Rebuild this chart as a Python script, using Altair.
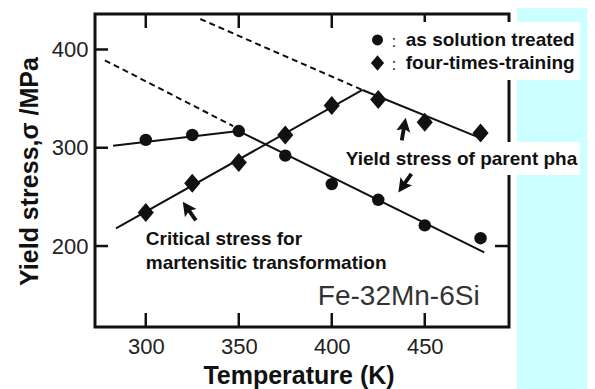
import altair as alt
import pandas as pd

# ---- data ----
temps = [300, 325, 350, 375, 400, 425, 450, 480]
sigma_solution = [308, 313, 317, 292, 263, 247, 221, 208]   # circles: as solution treated
sigma_training = [234, 264, 285, 313, 343, 349, 326, 315]   # diamonds: four-times-training

# fitted solid segments
solid_id = ["a", "a", "b", "b", "c", "c", "d", "d"]
solid_T = [282.4, 350, 350, 482, 284, 416.5, 416.5, 480.3]
solid_S = [302, 317, 317, 193.6, 218, 358.8, 358.8, 309.6]
# extrapolated dashed segments
dash_id = ["e", "e", "f", "f"]
dash_T = [278, 347, 329.3, 416.5]
dash_S = [389, 322, 431, 358.8]

x_ticks = [300, 350, 400, 450]
y_ticks = [200, 300, 400]

# annotations (T, sigma, text)
ann_T = [300, 300, 407.5]
ann_S = [201, 176.6, 282.4]
ann_text = ["Critical stress for", "martensitic transformation", "Yield stress of parent pha"]

legend_T = 439.8
legend_S = [403.9, 380.2]
legend_text = ["as solution treated", "four-times-training"]
legend_mark_T = 424.6
legend_mark_S = [409.7, 386.3]
colon_T = 433.4
colon_S = [402.5, 379.5]

alloy_T, alloy_S, alloy_text = 392.5, 140, "Fe-32Mn-6Si"

arrow_T = [438.7, 323.4, 439.3]
arrow_S = [319, 235.6, 264]
arrow_ang = [10, 325, 215]

# ---- layout ----
W, H = 414, 313
XMIN, XMAX = 272.7, 495.3
YMIN, YMAX = 117.6, 436.1
KX = W / (XMAX - XMIN)
KY = H / (YMAX - YMIN)
FONT = "Liberation Sans"
INK = "#111111"
ARROW = "M0,-1 L0.62,0.22 L0.17,0.04 L0.17,1 L-0.17,1 L-0.17,0.04 L-0.62,0.22 Z"
DIAMOND = "M0,-1 L0.85,0 L0,1 L-0.85,0 Z"

xs = alt.Scale(domain=[XMIN, XMAX], nice=False, zero=False)
ys = alt.Scale(domain=[YMIN, YMAX], nice=False, zero=False)
xaxis = alt.Axis(values=x_ticks, domain=False, ticks=False, tickSize=0, grid=False,
                 labelFont=FONT, labelFontSize=22, labelColor="#222222", labelPadding=9,
                 title="Temperature (K)", titleFont=FONT, titleFontSize=25,
                 titleFontWeight="bold", titleColor=INK, titleX=203.5, titleY=56,
                 titleBaseline="alphabetic")
yaxis = alt.Axis(values=y_ticks, domain=False, ticks=False, tickSize=0, grid=False,
                 labelFont=FONT, labelFontSize=22, labelColor="#222222", labelPadding=7,
                 title="Yield stress,σ /MPa", titleFont=FONT, titleFontSize=25,
                 titleFontWeight="bold", titleColor=INK, titleX=-58, titleY=157,
                 titleBaseline="alphabetic")
X = alt.X("T:Q", scale=xs, axis=xaxis)
Y = alt.Y("S:Q", scale=ys, axis=yaxis)

one = pd.DataFrame({"k": [0]})

pts1 = pd.DataFrame({"T": temps, "S": sigma_solution})
pts2 = pd.DataFrame({"T": temps, "S": sigma_training})
dash = pd.DataFrame({"id": dash_id, "T": dash_T, "S": dash_S})

# solid segments = fitted lines + inward frame ticks (two points per segment)
seg_rows = [{"id": i, "T": t, "S": s, "w": 2.0}
            for i, t, s in zip(solid_id, solid_T, solid_S)]
k = 0
for t in x_ticks:
    for s0, s1 in [(YMIN, YMIN + 14 / KY), (YMAX, YMAX - 14 / KY)]:
        seg_rows += [{"id": f"tx{k}", "T": t, "S": s0, "w": 2.5},
                     {"id": f"tx{k}", "T": t, "S": s1, "w": 2.5}]
        k += 1
for s in y_ticks:
    for t0, t1 in [(XMIN, XMIN + 13 / KX), (XMAX - 14 / KX, XMAX)]:
        seg_rows += [{"id": f"ty{k}", "T": t0, "S": s, "w": 2.5},
                     {"id": f"ty{k}", "T": t1, "S": s, "w": 2.5}]
        k += 1
solid = pd.DataFrame(seg_rows)

ann = pd.DataFrame({"T": ann_T, "S": ann_S, "txt": ann_text})
leg = pd.DataFrame({"T": [legend_T] * 2, "S": legend_S, "txt": legend_text})
colon = pd.DataFrame({"T": [colon_T] * 2, "S": colon_S, "txt": [":", ":"]})
lm1 = pd.DataFrame({"T": [legend_mark_T], "S": [legend_mark_S[0]]})
lm2 = pd.DataFrame({"T": [legend_mark_T], "S": [legend_mark_S[1]]})
alloy = pd.DataFrame({"T": [alloy_T], "S": [alloy_S], "txt": [alloy_text]})
arr = pd.DataFrame({"T": arrow_T, "S": arrow_S, "ang": arrow_ang})

cyan = alt.Chart(one).mark_rect(fill="#CCFFFF").encode(
    x=alt.value(422), x2=alt.value(492), y=alt.value(-6), y2=alt.value(375))
frame = alt.Chart(one).mark_rect(fill="transparent", stroke=INK, strokeWidth=3).encode(
    x=alt.value(0), x2=alt.value(W), y=alt.value(0), y2=alt.value(H))

solid_l = alt.Chart(solid).mark_line(color=INK).encode(
    x=X, y=Y, detail="id:N", strokeWidth=alt.StrokeWidth("w:Q", scale=None))
dash_l = alt.Chart(dash).mark_line(color=INK, strokeWidth=2, strokeDash=[6, 4]).encode(
    x=X, y=Y, detail="id:N")

circ = alt.Chart(pts1).mark_point(shape="circle", filled=True, size=155, color=INK,
                                  opacity=1).encode(x=X, y=Y)
diam = alt.Chart(pts2).mark_point(shape=DIAMOND, filled=True, size=361, color=INK,
                                  opacity=1).encode(x=X, y=Y)

box1 = alt.Chart(one).mark_rect(fill="white").encode(
    x=alt.value(260), x2=alt.value(485), y=alt.value(8), y2=alt.value(66))
box2 = alt.Chart(one).mark_rect(fill="white").encode(
    x=alt.value(243), x2=alt.value(485), y=alt.value(128), y2=alt.value(161))

ann_t = alt.Chart(ann).mark_text(align="left", baseline="alphabetic", font=FONT, fontSize=19,
                                 fontWeight="bold", color=INK).encode(x=X, y=Y, text="txt:N")
leg_t = alt.Chart(leg).mark_text(align="left", baseline="alphabetic", font=FONT, fontSize=19,
                                 fontWeight="bold", color=INK).encode(x=X, y=Y, text="txt:N")
colon_t = alt.Chart(colon).mark_text(align="center", baseline="alphabetic", font=FONT,
                                     fontSize=16, color=INK).encode(x=X, y=Y, text="txt:N")
lm1_p = alt.Chart(lm1).mark_point(shape="circle", filled=True, size=120, color=INK,
                                  opacity=1).encode(x=X, y=Y)
lm2_p = alt.Chart(lm2).mark_point(shape=DIAMOND, filled=True, size=240, color=INK,
                                  opacity=1).encode(x=X, y=Y)
alloy_t = alt.Chart(alloy).mark_text(align="left", baseline="alphabetic", font=FONT,
                                     fontSize=28, color="#333333").encode(x=X, y=Y, text="txt:N")
arrows = alt.Chart(arr).mark_point(shape=ARROW, filled=True, size=520, color=INK,
                                   opacity=1).encode(x=X, y=Y, angle=alt.Angle("ang:Q", scale=None))

chart = alt.layer(
    cyan, frame, dash_l, solid_l, circ, diam,
    box1, box2, ann_t, leg_t, colon_t, lm1_p, lm2_p, alloy_t, arrows
).properties(
    width=W, height=H,
    padding={"left": 87, "top": 6, "right": 78, "bottom": 62},
    autosize=alt.AutoSizeParams(type="none"),
    background="white",
).configure_view(stroke=None)

chart.save("out.html", embed_options={"renderer": "svg", "actions": False})
